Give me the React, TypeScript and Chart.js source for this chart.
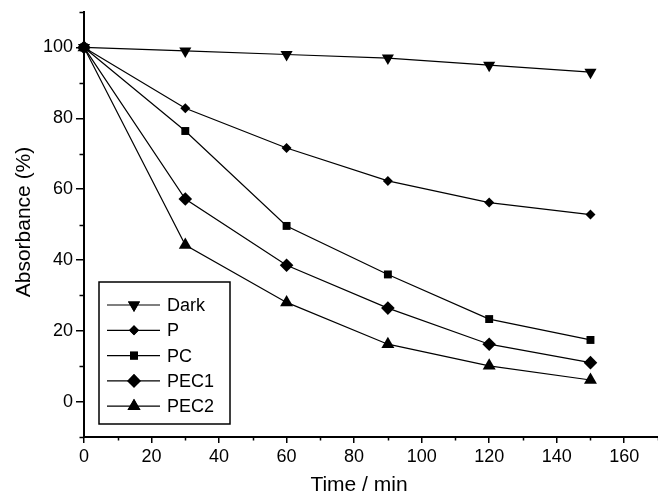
import React, { useEffect, useRef } from 'react';
import { Chart, registerables } from 'chart.js';
import { drawPoint } from 'chart.js/helpers';

Chart.register(...registerables);

const times = [0, 30, 60, 90, 120, 150];
const darkValues = [100, 99, 98, 97, 95, 93];
const pValues = [100, 82.8, 71.6, 62.3, 56.2, 52.8];
const pcValues = [100, 76.4, 49.6, 35.9, 23.3, 17.4];
const pec1Values = [100, 57.2, 38.5, 26.4, 16.2, 11.0];
const pec2Values = [100, 44.2, 28.0, 16.2, 10.1, 6.1];
const seriesLabels = ['Dark', 'P', 'PC', 'PEC1', 'PEC2'];

const xTickValues = [0, 20, 40, 60, 80, 100, 120, 140, 160];
const yTickValues = [0, 20, 40, 60, 80, 100];
const xMinorTicks = [10, 30, 50, 70, 90, 110, 130, 150, 170];
const yMinorTicks = [-10, 10, 30, 50, 70, 90, 110];

const xTitle = 'Time / min';
const yTitle = 'Absorbance (%)';

const FONT = "'Liberation Sans', Arial, Helvetica, sans-serif";

const markerStyles = [
  { pointStyle: 'triangle', radius: 7, rotation: 180 },
  { pointStyle: 'rectRot', radius: 5, rotation: 0 },
  { pointStyle: 'rect', radius: 5.6, rotation: 0 },
  { pointStyle: 'rectRot', radius: 6.8, rotation: 0 },
  { pointStyle: 'triangle', radius: 7.5, rotation: 0 },
];

const extrasPlugin = {
  id: 'extras',
  afterDraw(chart: any) {
    const ctx = chart.ctx as CanvasRenderingContext2D;
    const xs = chart.scales.x;
    const ys = chart.scales.y;
    const area = chart.chartArea;
    ctx.save();
    ctx.strokeStyle = '#000';
    ctx.fillStyle = '#000';
    ctx.lineWidth = 1.5;
    // minor ticks
    ctx.beginPath();
    for (const v of xMinorTicks) {
      const px = Math.round(xs.getPixelForValue(v)) + 0.5;
      ctx.moveTo(px, area.bottom);
      ctx.lineTo(px, area.bottom + 3.5);
    }
    for (const v of yMinorTicks) {
      const py = Math.round(ys.getPixelForValue(v)) + 0.5;
      ctx.moveTo(area.left, py);
      ctx.lineTo(area.left - 4.5, py);
    }
    ctx.stroke();

    // titles
    ctx.font = `21px ${FONT}`;
    ctx.textAlign = 'center';
    ctx.textBaseline = 'alphabetic';
    ctx.fillText(xTitle, 359, 491);
    ctx.save();
    ctx.translate(30, 222);
    ctx.rotate(-Math.PI / 2);
    ctx.fillText(yTitle, 0, 0);
    ctx.restore();

    // legend
    const boxL = 99, boxT = 282, boxR = 230, boxB = 424;
    ctx.lineWidth = 1.5;
    ctx.strokeRect(boxL, boxT, boxR - boxL, boxB - boxT);
    const rowY0 = 305;
    const rowStep = 25.3;
    ctx.font = `18px ${FONT}`;
    ctx.textAlign = 'left';
    ctx.textBaseline = 'middle';
    chart.data.datasets.forEach((ds: any, i: number) => {
      const y = rowY0 + i * rowStep;
      ctx.lineWidth = 1.2;
      ctx.beginPath();
      ctx.moveTo(107, y);
      ctx.lineTo(160, y);
      ctx.stroke();
      const m = markerStyles[i];
      drawPoint(ctx, { pointStyle: m.pointStyle, radius: m.radius, rotation: m.rotation, borderWidth: 0 } as any, 134, y);
      ctx.fill();
      ctx.fillText(ds.label, 167, y + 1);
    });
    ctx.restore();
  },
};

export default function App() {
  const ref = useRef<HTMLCanvasElement>(null);
  useEffect(() => {
    if (!ref.current) return;
    const allValues = [darkValues, pValues, pcValues, pec1Values, pec2Values];
    const datasets = allValues.map((vals, i) => ({
      label: seriesLabels[i],
      data: times.map((t, j) => ({ x: t, y: vals[j] })),
      borderColor: '#000',
      backgroundColor: '#000',
      borderWidth: 1.2,
      pointStyle: markerStyles[i].pointStyle as any,
      pointRadius: markerStyles[i].radius,
      pointRotation: markerStyles[i].rotation,
      pointBorderWidth: 0,
      pointBackgroundColor: '#000',
      tension: 0,
      clip: false as any,
    }));
    const chart = new Chart(ref.current, {
      type: 'line',
      data: { datasets },
      plugins: [extrasPlugin],
      options: {
        animation: false,
        responsive: false,
        devicePixelRatio: 1,
        layout: { autoPadding: false, padding: { top: 12, left: 0, right: 0, bottom: 0 } },
        plugins: {
          legend: { display: false },
          tooltip: { enabled: false },
          title: { display: false },
        },
        scales: {
          x: {
            type: 'linear',
            min: 0,
            max: 170,
            afterBuildTicks: (s: any) => {
              s.ticks = xTickValues.map((v) => ({ value: v }));
            },
            afterFit: (s: any) => {
              s.height = 56;
              s.paddingLeft = 0;
              s.paddingRight = 0;
            },
            ticks: {
              color: '#000',
              font: { family: FONT, size: 18 },
              padding: 3,
              maxRotation: 0,
              autoSkip: false,
            },
            grid: {
              display: true,
              drawOnChartArea: false,
              drawTicks: true,
              tickLength: 6,
              color: '#000',
              lineWidth: 1.5,
            },
            border: { display: true, color: '#000', width: 2 },
          },
          y: {
            type: 'linear',
            min: -10,
            max: 110,
            afterBuildTicks: (s: any) => {
              s.ticks = yTickValues.map((v) => ({ value: v }));
            },
            afterFit: (s: any) => {
              s.width = 84;
              s.paddingTop = 0;
              s.paddingBottom = 0;
            },
            ticks: {
              color: '#000',
              font: { family: FONT, size: 18 },
              padding: 3,
              autoSkip: false,
            },
            grid: {
              display: true,
              drawOnChartArea: false,
              drawTicks: true,
              tickLength: 8,
              color: '#000',
              lineWidth: 1.5,
            },
            border: { display: true, color: '#000', width: 2 },
          },
        },
      },
    });
    return () => chart.destroy();
  }, []);
  return (
    <div style={{ position: 'absolute', left: 0, top: 0, width: 658, height: 493, background: '#fff' }}>
      <canvas ref={ref} width={658} height={493} style={{ width: 658, height: 493, display: 'block' }} />
    </div>
  );
}
